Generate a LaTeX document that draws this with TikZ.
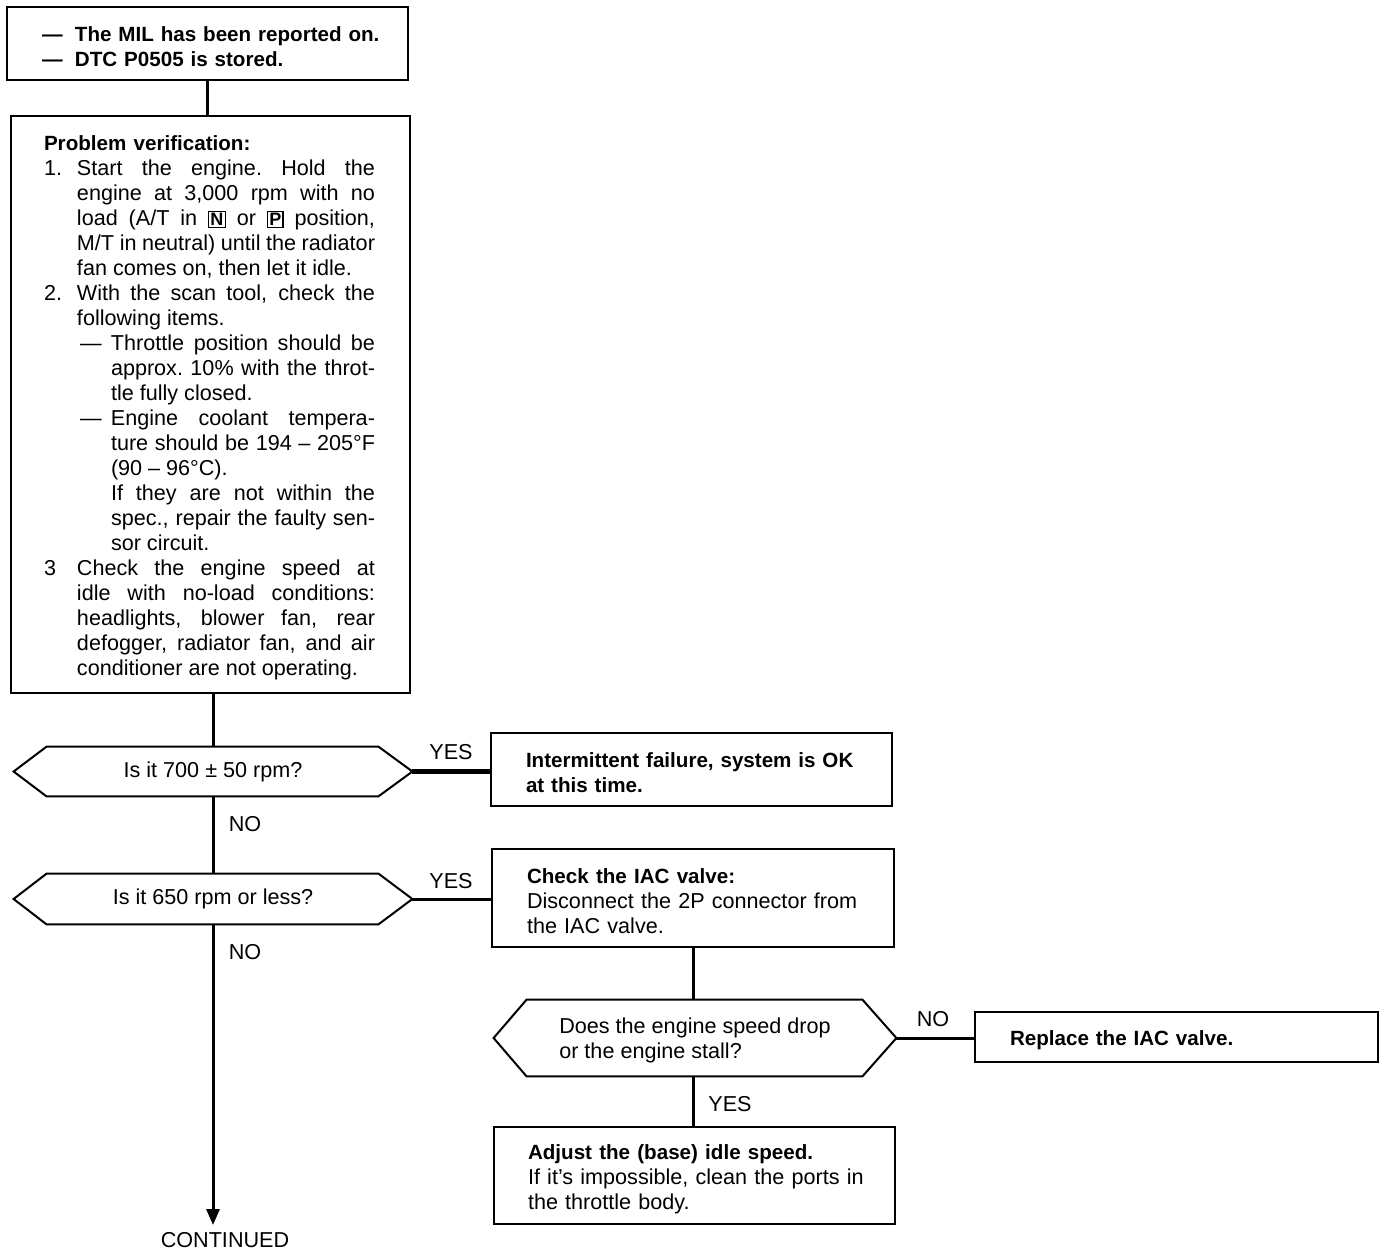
\documentclass[tikz,border=0pt]{standalone}
\usepackage{fontspec}
\setmainfont{Liberation Sans}
\usetikzlibrary{arrows.meta}
\newcommand{\keycap}[1]{{\setlength{\fboxsep}{0.6pt}\setlength{\fboxrule}{0.6pt}\fbox{\small\bfseries #1}}}
\newcommand{\jbox}[2]{\makebox[#1][s]{\spaceskip=0.278em plus 2em minus 0.1em\relax\xspaceskip=\spaceskip #2}}
\newcommand{\numline}[2]{\makebox[16.5pt][l]{#1}\jbox{149pt}{#2}}
\newcommand{\contline}[1]{\hspace*{16.5pt}\jbox{149pt}{#1}}
\newcommand{\lastline}[1]{\hspace*{16.5pt}\mbox{\spaceskip=0.278em\relax #1}}
\newcommand{\subline}[2]{\hspace*{18pt}\makebox[15.5pt][l]{#1}\jbox{132pt}{#2}}
\newcommand{\subcont}[1]{\hspace*{33.5pt}\jbox{132pt}{#1}}
\newcommand{\sublast}[1]{\hspace*{33.5pt}\mbox{\spaceskip=0.278em\relax #1}}
\newcommand{\bfline}[1]{{\fontsize{10.3pt}{12.5pt}\selectfont\bfseries #1}}
\newcommand{\topstrut}{\rule{0pt}{11pt}}
\newcommand{\smallstrut}{\rule{0pt}{10pt}}
\begin{document}
\begin{tikzpicture}[x=0.5pt,y=-0.5pt,
  every node/.style={font=\fontsize{10.8pt}{12.5pt}\selectfont},
  box/.style={draw, line width=1.4pt, inner ysep=0pt, align=left, anchor=center},
  boldtext/.style={font=\fontsize{10.3pt}{12.5pt}\selectfont\bfseries},
  hexa/.style={inner sep=0pt, align=center},
  hexline/.style={line width=1pt, line join=miter},
  link/.style={line width=1.5pt},
  thicklink/.style={line width=2.3pt},
  lbl/.style={anchor=base, inner sep=0pt}]
\useasboundingbox (0,0) rectangle (1392,1254);

% boxes
\node[box, boldtext, minimum width=200.5pt, minimum height=36.5pt, text width=165.5pt, inner xsep=17.5pt] (b1) at (207.5,43.5)
  {\topstrut\makebox[16.5pt][l]{—}\mbox{The MIL has been reported on.}\\
   \makebox[16.5pt][l]{—}\mbox{DTC P0505 is stored.}};

\node[box, minimum width=199.5pt, minimum height=288.5pt, text width=166.5pt, inner xsep=16.5pt] (b2) at (210.5,404.5)
  {\topstrut\bfline{Problem verification:}\\
   \numline{1.}{Start the engine. Hold the}\\
   \contline{engine at 3,000 rpm with no}\\
   \contline{load (A/T in \keycap{N} or \keycap{P} position,}\\
   \contline{M/T in neutral) until the radiator}\\
   \lastline{fan comes on, then let it idle.}\\
   \numline{2.}{With the scan tool, check the}\\
   \lastline{following items.}\\
   \subline{—}{Throttle position should be}\\
   \subcont{approx. 10\% with the throt-}\\
   \sublast{tle fully closed.}\\
   \subline{—}{Engine coolant tempera-}\\
   \subcont{ture should be 194 – 205°F}\\
   \sublast{(90 – 96°C).}\\
   \subcont{If they are not within the}\\
   \subcont{spec., repair the faulty sen-}\\
   \sublast{sor circuit.}\\
   \numline{3}{Check the engine speed at}\\
   \contline{idle with no-load conditions:}\\
   \contline{headlights, blower fan, rear}\\
   \contline{defogger, radiator fan, and air}\\
   \lastline{conditioner are not operating.}};

\node[box, boldtext, minimum width=200.5pt, minimum height=36.5pt, text width=165.5pt, inner xsep=17.5pt] (b3) at (691.5,769.5)
  {\topstrut\mbox{Intermittent failure, system is OK}\\ \mbox{at this time.}};

\node[box, minimum width=201pt, minimum height=49pt, text width=166pt, inner xsep=17.5pt] (b4) at (693,898)
  {\topstrut\bfline{Check the IAC valve:}\\ \mbox{Disconnect the 2P connector from}\\ \mbox{the IAC valve.}};

\node[box, boldtext, minimum width=201.5pt, minimum height=25pt, text width=166.5pt, inner xsep=17.5pt] (b5) at (1176.5,1037)
  {\topstrut Replace the IAC valve.};

\node[box, minimum width=200.5pt, minimum height=48.5pt, text width=166.5pt, inner xsep=17pt] (b6) at (694.5,1175.5)
  {\topstrut\bfline{Adjust the (base) idle speed.}\\ \mbox{If it's impossible, clean the ports in}\\ \mbox{the throttle body.}};

% decision hexagons
\node[hexa, minimum width=199pt, minimum height=24.5pt] (d1) at (213,771.5) {Is it 700 ± 50 rpm?};
\draw[hexline] ([xshift=16.5pt]d1.north west) -- ([xshift=-17pt]d1.north east) -- (d1.east)
  -- ([xshift=-17pt]d1.south east) -- ([xshift=16.5pt]d1.south west) -- (d1.west) -- cycle;

\node[hexa, minimum width=199pt, minimum height=25pt] (d2) at (213,899) {Is it 650 rpm or less?};
\draw[hexline] ([xshift=16.5pt]d2.north west) -- ([xshift=-17pt]d2.north east) -- (d2.east)
  -- ([xshift=-17pt]d2.south east) -- ([xshift=16.5pt]d2.south west) -- (d2.west) -- cycle;

\node[inner sep=0pt, align=left, minimum width=201pt, minimum height=38pt] (d3) at (695,1038)
  {\smallstrut Does the engine speed drop\\ or the engine stall?};
\draw[hexline] ([xshift=16.5pt]d3.north west) -- ([xshift=-17pt]d3.north east) -- (d3.east)
  -- ([xshift=-17pt]d3.south east) -- ([xshift=16.5pt]d3.south west) -- (d3.west) -- cycle;

% connectors
\draw[link] (b1.south) -- (b1.south |- b2.north);
\draw[link] (d1.north |- b2.south) -- (d1.north);
\draw[link] (d1.south) -- (d2.north);
\draw[thicklink] (d1.east) -- (d1.east -| b3.west);
\draw[link] (d2.east) -- (d2.east -| b4.west);
\coordinate (contpt) at (213,1225);
\draw[link, -{Triangle[length=8pt,width=6.5pt]}] (d2.south) -- (contpt);
\draw[link] (b4.south) -- (b4.south |- d3.north);
\draw[link] (d3.east) -- (d3.east -| b5.west);
\draw[link] (b4.south |- d3.south) -- (b4.south |- b6.north);

% labels
\node[lbl] (yes1) at (451,759) {YES};
\node[lbl] (no1) at (245,831) {NO};
\node[lbl] (yes2) at (451,888) {YES};
\node[lbl] (no2) at (245,959) {NO};
\node[lbl] (no3) at (933,1026) {NO};
\node[lbl] (yes3) at (730,1111) {YES};
\node[lbl] (conttext) at (225,1247) {CONTINUED};
\end{tikzpicture}
\end{document}
